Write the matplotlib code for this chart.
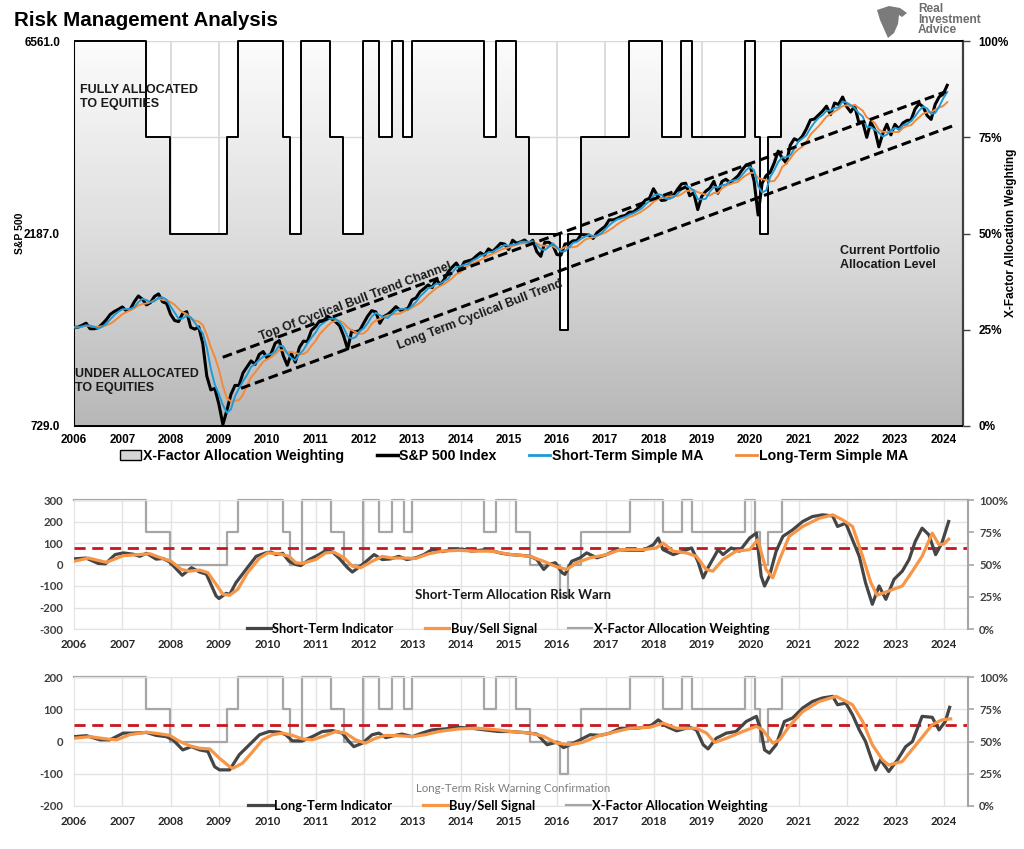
import numpy as np
import pandas as pd
import matplotlib
matplotlib.use('Agg')
import matplotlib.pyplot as plt
from matplotlib.colors import LinearSegmentedColormap
from matplotlib.lines import Line2D
from matplotlib.patches import Patch, Polygon, Rectangle
from matplotlib.ticker import NullLocator
from matplotlib import font_manager

# ---------------- DATA ----------------
spx_start_year = 2006.0
spx_monthly = [
    1280, 1281, 1295, 1311, 1270, 1270, 1277, 1304, 1336, 1378, 1401, 1418,   # 2006
    1438, 1407, 1421, 1482, 1531, 1503, 1455, 1474, 1527, 1549, 1481, 1468,   # 2007
    1379, 1331, 1323, 1386, 1400, 1280, 1267, 1283, 1166, 969, 896, 903,      # 2008
    826, 735, 798, 873, 919, 919, 987, 1021, 1057, 1036, 1096, 1115,          # 2009
    1074, 1104, 1169, 1187, 1089, 1031, 1102, 1049, 1141, 1183, 1181, 1258,   # 2010
    1286, 1327, 1326, 1364, 1345, 1321, 1292, 1219, 1131, 1253, 1247, 1258,   # 2011
    1312, 1366, 1408, 1398, 1310, 1362, 1379, 1407, 1441, 1412, 1416, 1426,   # 2012
    1498, 1515, 1569, 1598, 1631, 1606, 1686, 1633, 1682, 1757, 1806, 1848,   # 2013
    1783, 1859, 1872, 1884, 1924, 1960, 1931, 2003, 1972, 2018, 2068, 2059,   # 2014
    1995, 2105, 2068, 2086, 2107, 2063, 2104, 1972, 1920, 2079, 2080, 2044,   # 2015
    1940, 1932, 2060, 2065, 2097, 2099, 2174, 2171, 2168, 2126, 2199, 2239,   # 2016
    2279, 2364, 2363, 2384, 2412, 2423, 2470, 2472, 2519, 2575, 2648, 2674,   # 2017
    2824, 2714, 2641, 2648, 2705, 2718, 2816, 2902, 2914, 2712, 2760, 2507,   # 2018
    2704, 2784, 2834, 2946, 2752, 2942, 2980, 2926, 2977, 3038, 3141, 3231,   # 2019
    3226, 2954, 2430, 2912, 3044, 3100, 3271, 3500, 3363, 3270, 3622, 3756,   # 2020
    3714, 3811, 3973, 4181, 4204, 4298, 4395, 4523, 4308, 4605, 4567, 4766,   # 2021
    4516, 4374, 4530, 4132, 4132, 3785, 4130, 3955, 3586, 3872, 4080, 3840,   # 2022
    4077, 3970, 4109, 4169, 4180, 4450, 4589, 4508, 4288, 4194, 4568, 4770,   # 2023
    4846, 5096,                                                               # 2024
]
short_ma_months = 3
long_ma_months = 6

alloc_years = [2006.0, 2007.49, 2007.99, 2009.16, 2009.40, 2010.32, 2010.47, 2010.71,
               2011.31, 2011.58, 2011.99, 2012.32, 2012.58, 2012.82, 2012.99, 2014.49,
               2014.74, 2015.15, 2015.43, 2016.06, 2016.22, 2016.50, 2017.50, 2018.18,
               2018.58, 2018.79, 2019.89, 2020.10, 2020.20, 2020.37, 2020.65, 2024.50]
alloc_levels = [100, 75, 50, 75, 100, 75, 50, 100,
                75, 50, 100, 75, 100, 75, 100, 75,
                100, 75, 50, 25, 50, 75, 100, 75,
                100, 75, 100, 75, 50, 75, 100, 100]

upper_trend_years = [2009.08, 2024.06]
upper_trend_vals = [1079, 4916]
lower_trend_years = [2009.46, 2024.24]
lower_trend_vals = [904, 4059]

st_years = [2006.00, 2006.25, 2006.50, 2006.65, 2006.85, 2007.02, 2007.22, 2007.36, 2007.50, 2007.70,
            2007.84, 2007.98, 2008.19, 2008.24, 2008.43, 2008.60, 2008.74, 2008.94, 2009.00, 2009.15,
            2009.22, 2009.35, 2009.56, 2009.77, 2009.97, 2010.08, 2010.18, 2010.32, 2010.45, 2010.59,
            2010.69, 2010.87, 2011.07, 2011.21, 2011.35, 2011.48, 2011.66, 2011.76, 2011.97, 2012.21,
            2012.38, 2012.55, 2012.72, 2012.89, 2013.07, 2013.24, 2013.41, 2013.62, 2013.82, 2014.03,
            2014.23, 2014.51, 2014.71, 2014.85, 2015.03, 2015.24, 2015.44, 2015.58, 2015.72, 2015.82,
            2015.96, 2016.10, 2016.16, 2016.30, 2016.47, 2016.61, 2016.82, 2017.02, 2017.23, 2017.50,
            2017.78, 2017.99, 2018.09, 2018.19, 2018.40, 2018.60, 2018.78, 2018.91, 2019.02, 2019.12,
            2019.33, 2019.43, 2019.60, 2019.77, 2019.98, 2020.12, 2020.22, 2020.29, 2020.39, 2020.53,
            2020.67, 2020.87, 2021.08, 2021.28, 2021.49, 2021.70, 2021.80, 2021.97, 2022.11, 2022.25,
            2022.38, 2022.52, 2022.66, 2022.80, 2022.97, 2023.14, 2023.28, 2023.41, 2023.55, 2023.69,
            2023.83, 2023.96, 2024.10]
st_vals = [26, 30, 5, 3, 46, 54, 48, 38, 52, 25,
           28, 12, -38, -50, -15, -35, -45, -146, -158, -134,
           -140, -85, -23, 38, 54, 58, 46, 52, 15, 0,
           -5, 23, 46, 65, 58, 31, -15, -35, 0, 46,
           23, 26, 38, 23, 31, 46, 69, 60, 69, 72,
           62, 69, 60, 52, 46, 43, 38, 23, -23, 0,
           8, -38, -46, 15, 31, 54, 31, 46, 69, 66,
           66, 92, 123, 69, 46, 62, 77, 15, -62, -15,
           69, 46, 77, 62, 123, 146, -54, -100, -54, 62,
           131, 161, 200, 223, 231, 226, 177, 192, 115, 38,
           -85, -185, -100, -162, -69, -31, 23, 108, 169, 138,
           46, 100, 200]

st_sig_years = [2006.00, 2006.30, 2006.67, 2007.02, 2007.33, 2007.57, 2007.81, 2008.01, 2008.22, 2008.39,
                2008.60, 2008.77, 2008.94, 2009.08, 2009.22, 2009.39, 2009.59, 2009.84, 2010.01, 2010.25,
                2010.45, 2010.59, 2010.73, 2011.00, 2011.21, 2011.38, 2011.59, 2011.76, 2011.93, 2012.17,
                2012.38, 2012.58, 2012.86, 2013.07, 2013.34, 2013.62, 2013.96, 2014.30, 2014.65, 2014.99,
                2015.44, 2015.72, 2015.99, 2016.20, 2016.40, 2016.68, 2017.02, 2017.30, 2017.78, 2018.05,
                2018.19, 2018.40, 2018.67, 2018.88, 2019.08, 2019.22, 2019.43, 2019.70, 2019.98, 2020.15,
                2020.32, 2020.46, 2020.60, 2020.80, 2021.08, 2021.42, 2021.70, 2021.90, 2022.11, 2022.32,
                2022.49, 2022.62, 2022.86, 2023.14, 2023.35, 2023.55, 2023.76, 2023.90, 2024.00, 2024.10]
st_sig_vals = [15, 30, 10, 41, 46, 50, 30, 15, -23, -31,
               -26, -38, -92, -138, -143, -115, -38, 30, 54, 50,
               38, 8, 5, 23, 54, 57, 31, -8, -15, 15,
               38, 30, 30, 28, 50, 62, 66, 62, 62, 48,
               38, 15, -11, -23, 8, 31, 46, 69, 69, 77,
               100, 62, 54, 38, -23, -31, 23, 62, 69, 115,
               -23, -62, 23, 131, 177, 215, 231, 208, 177, 38,
               -85, -143, -123, -100, -31, 38, 146, 92, 95, 118]

lt_years = [2006.00, 2006.26, 2006.54, 2006.74, 2007.02, 2007.22, 2007.50, 2007.70, 2007.91, 2008.05,
            2008.25, 2008.43, 2008.60, 2008.77, 2008.91, 2009.01, 2009.22, 2009.42, 2009.63, 2009.84,
            2010.04, 2010.25, 2010.38, 2010.52, 2010.73, 2010.93, 2011.14, 2011.35, 2011.55, 2011.69,
            2011.79, 2011.97, 2012.17, 2012.31, 2012.45, 2012.65, 2012.79, 2013.00, 2013.20, 2013.41,
            2013.68, 2013.96, 2014.23, 2014.50, 2014.78, 2015.03, 2015.30, 2015.58, 2015.79, 2015.99,
            2016.13, 2016.27, 2016.47, 2016.68, 2016.89, 2017.09, 2017.30, 2017.64, 2017.92, 2018.09,
            2018.26, 2018.47, 2018.74, 2018.88, 2019.02, 2019.12, 2019.29, 2019.50, 2019.70, 2019.91,
            2020.12, 2020.22, 2020.29, 2020.39, 2020.53, 2020.70, 2020.87, 2021.08, 2021.28, 2021.49,
            2021.70, 2021.80, 2021.97, 2022.11, 2022.25, 2022.38, 2022.52, 2022.59, 2022.69, 2022.86,
            2023.04, 2023.21, 2023.35, 2023.55, 2023.76, 2023.90, 2024.03, 2024.12]
lt_vals = [15, 18, 5, 5, 26, 26, 28, 19, 15, 5,
           -26, -16, -26, -31, -78, -88, -88, -41, -10, 21,
           31, 29, 21, 2, 2, 15, 31, 34, 26, 0,
           -16, -5, 21, 26, 12, 19, 23, 15, 26, 36,
           39, 44, 41, 36, 31, 31, 28, 23, -10, -2,
           -19, -10, 5, 21, 19, 26, 41, 41, 47, 67,
           47, 33, 44, 36, -10, -23, 10, 26, 31, 62,
           78, 31, -26, -36, -10, 62, 73, 104, 124, 135,
           140, 114, 119, 83, 36, 0, -62, -88, -57, -93,
           -57, -16, 0, 78, 75, 36, 62, 106]

lt_sig_years = [2006.00, 2006.33, 2006.67, 2006.88, 2007.15, 2007.50, 2007.77, 2007.98, 2008.19, 2008.39,
                2008.60, 2008.81, 2009.01, 2009.22, 2009.29, 2009.49, 2009.70, 2009.90, 2010.11, 2010.32,
                2010.52, 2010.73, 2010.93, 2011.21, 2011.42, 2011.62, 2011.83, 2012.03, 2012.24, 2012.45,
                2012.72, 2013.00, 2013.27, 2013.55, 2013.96, 2014.37, 2014.78, 2015.03, 2015.44, 2015.72,
                2015.99, 2016.27, 2016.54, 2016.82, 2017.09, 2017.50, 2017.92, 2018.19, 2018.47, 2018.88,
                2019.09, 2019.26, 2019.50, 2019.84, 2020.12, 2020.25, 2020.46, 2020.60, 2020.80, 2021.08,
                2021.42, 2021.77, 2022.11, 2022.32, 2022.52, 2022.73, 2022.86, 2023.14, 2023.48, 2023.76,
                2023.96, 2024.14]
lt_sig_vals = [10, 15, 8, 5, 21, 29, 24, 19, 0, -13,
               -21, -23, -52, -78, -83, -67, -31, 5, 21, 26,
               19, 8, 5, 19, 31, 26, 5, -5, 10, 19,
               18, 15, 21, 31, 39, 41, 36, 31, 26, 16,
               -5, -10, -2, 16, 26, 41, 44, 57, 41, 41,
               26, -3, 10, 31, 47, 36, -5, 5, 47, 93,
               124, 140, 114, 62, -10, -57, -73, -62, 0, 52,
               67, 70]

year_ticks = list(range(2006, 2025))
alloc_ticks = [0, 25, 50, 75, 100]
spx_ticks = [729.0, 2187.0, 6561.0]
st_ticks = [-300, -200, -100, 0, 100, 200, 300]
lt_ticks = [-200, -100, 0, 100, 200]
st_threshold = 75
lt_threshold = 50

# ---------------- STYLE ----------------
names = {f.name for f in font_manager.fontManager.ttflist}
ARIAL = 'Liberation Sans'
NARROW = 'Liberation Sans Narrow' if 'Liberation Sans Narrow' in names else 'Liberation Sans'
CAL = 'Lato' if 'Lato' in names else 'DejaVu Sans'

W, H = 1024, 849
fig = plt.figure(figsize=(W / 100, H / 100), dpi=100)
fig.patch.set_facecolor('white')


def fx(x):
    return x / W


def fy(y):
    return 1 - y / H


def rect(left, top, right, bottom):
    return [fx(left), fy(bottom), (right - left) / W, (bottom - top) / H]


XMAX_TOP = 2024.41
XMAX_LOW = 2024.50

# ================= TOP PANEL =================
top_rect = rect(74, 41, 963, 426)
ax_bg = fig.add_axes(top_rect, zorder=1)
ax_bg.set_facecolor('white')
for yr in year_ticks[1:]:
    ax_bg.axvline(yr, color='#d9d9d9', lw=1.3, zorder=0)
for p in alloc_ticks[1:]:
    ax_bg.axhline(p, color='#d9d9d9', lw=1.0, zorder=0)

coll = ax_bg.fill_between(alloc_years, 0, alloc_levels, step='post', facecolor='none',
                          edgecolor='black', linewidth=1.4, zorder=3)
coll.set_clip_path(Rectangle((0, -0.02), 1.0, 1.04, transform=ax_bg.transAxes))
grad = np.linspace(0, 1, 256).reshape(-1, 1)
cmap = LinearSegmentedColormap.from_list('g', ['#b7b7b7', '#dedede', '#fcfcfc'])
im = ax_bg.imshow(grad, extent=[2006, XMAX_TOP, 0, 100], origin='lower', aspect='auto',
                  cmap=cmap, zorder=2, interpolation='bilinear')
im.set_clip_path(coll.get_paths()[0], transform=ax_bg.transData)
ax_bg.set_xlim(2006, XMAX_TOP)
ax_bg.set_ylim(0, 100)
ax_bg.yaxis.tick_right()
ax_bg.set_yticks(alloc_ticks)
ax_bg.set_yticklabels([f'{p}%' for p in alloc_ticks], fontfamily=NARROW, fontweight='bold', fontsize=8.5)
ax_bg.tick_params(axis='y', direction='out', length=5, width=1, color='#404040', pad=6)
ax_bg.set_xticks(year_ticks)
ax_bg.set_xticklabels([str(y) for y in year_ticks], fontfamily=NARROW, fontweight='bold', fontsize=8.5)
ax_bg.tick_params(axis='x', length=0, pad=6)
ax_bg.spines['top'].set_visible(False)
ax_bg.spines['left'].set_color('#404040')
ax_bg.spines['right'].set_color('#404040')
ax_bg.spines['right'].set_linewidth(1.6)
ax_bg.spines['bottom'].set_color('#808080')

ax_main = fig.add_axes(top_rect, zorder=2)
ax_main.patch.set_visible(False)
ax_main.set_yscale('log')
spx = pd.Series(spx_monthly, dtype=float)
spx_x = spx_start_year + np.arange(len(spx)) / 12.0
short_ma = spx.rolling(short_ma_months, min_periods=1).mean()
long_ma = spx.rolling(long_ma_months, min_periods=1).mean()
ax_main.plot(spx_x, spx.values, color='black', lw=2.2, zorder=3, solid_joinstyle='round')
ax_main.plot(spx_x, long_ma.values, color='#f28a3a', lw=1.4, zorder=4)
ax_main.plot(spx_x, short_ma.values, color='#1e9ad6', lw=1.4, zorder=5)
ax_main.plot(upper_trend_years, upper_trend_vals, color='black', lw=2.2, dashes=(3.2, 1.6), zorder=6)
ax_main.plot(lower_trend_years, lower_trend_vals, color='black', lw=2.2, dashes=(3.2, 1.6), zorder=6)
ax_main.set_xlim(2006, XMAX_TOP)
ax_main.set_ylim(spx_ticks[0], spx_ticks[-1])
ax_main.yaxis.set_minor_locator(NullLocator())
ax_main.set_yticks(spx_ticks)
ax_main.set_yticklabels([f'{v:.1f}' for v in spx_ticks], fontfamily=NARROW, fontweight='bold', fontsize=8.5)
ax_main.tick_params(axis='y', length=0, pad=10)
ax_main.set_xticks([])
for s in ax_main.spines.values():
    s.set_visible(False)

txt_kw = dict(fontfamily=ARIAL, fontweight='bold', fontsize=9, color='#1a1a1a')
fig.text(fx(80), fy(97), 'FULLY ALLOCATED\nTO EQUITIES', va='center', ha='left', linespacing=1.15, **txt_kw)
fig.text(fx(75), fy(381), 'UNDER ALLOCATED\nTO EQUITIES', va='center', ha='left', linespacing=1.15, **txt_kw)
fig.text(fx(840), fy(258), 'Current Portfolio\nAllocation Level', va='center', ha='left', linespacing=1.15, **txt_kw)
fig.text(fx(356), fy(302), 'Top Of Cyclical Bull Trend Channel', rotation=20.5, rotation_mode='anchor',
         ha='center', va='center', fontfamily=ARIAL, fontweight='bold', fontsize=8.8, color='#1a1a1a')
fig.text(fx(480), fy(315), 'Long Term Cyclical Bull Trend', rotation=21, rotation_mode='anchor',
         ha='center', va='center', fontfamily=ARIAL, fontweight='bold', fontsize=8.8, color='#1a1a1a')

fig.text(fx(14), fy(20), 'Risk Management Analysis', fontfamily=ARIAL, fontweight='bold', fontsize=14.8,
         va='center', ha='left', color='black')
fig.text(fx(20), fy(233), 'S&P 500', rotation=90, va='center', ha='center', fontfamily=NARROW,
         fontweight='bold', fontsize=7.5)
fig.text(fx(1011), fy(233), 'X-Factor Allocation Weighting', rotation=90, va='center', ha='center',
         fontfamily=ARIAL, fontweight='bold', fontsize=8.5)

# logo
logo = Polygon([[fx(877), fy(10)], [fx(889), fy(6)], [fx(900), fy(8)], [fx(907), fy(13)], [fx(902), fy(17)],
                [fx(899), fy(15)], [fx(898), fy(24)], [fx(894), fy(33)], [fx(888), fy(38)], [fx(884), fy(29)],
                [fx(880), fy(20)]], closed=True, transform=fig.transFigure, facecolor='#7b7b7b',
               edgecolor='none')
fig.patches.append(logo)
fig.text(fx(918), fy(3), 'Real\nInvestment\nAdvice', va='top', ha='left', fontfamily=ARIAL,
         fontweight='bold', fontsize=8.6, color='#6e6e6e', linespacing=0.86)

top_handles = [Patch(facecolor='#d6d6d6', edgecolor='black', linewidth=1.0),
               Line2D([], [], color='black', lw=2.5),
               Line2D([], [], color='#1e9ad6', lw=2),
               Line2D([], [], color='#f28a3a', lw=2)]
top_labels = ['X-Factor Allocation Weighting', 'S&P 500 Index', 'Short-Term Simple MA', 'Long-Term Simple MA']
fig.legend(top_handles, top_labels, loc='center', bbox_to_anchor=(fx(514), fy(456)), ncol=4, frameon=False,
           prop={'family': NARROW, 'weight': 'bold', 'size': 10.2}, handlelength=1.5, handleheight=0.8,
           handletextpad=0.1, columnspacing=2.3)


# ================= LOWER PANELS =================
def lower_panel(top, bottom, ylim, ticks, ind_x, ind_v, sig_x, sig_v, thresh, ind_label, note, note_style):
    ax = fig.add_axes(rect(74, top, 968, bottom), zorder=2)
    lo, hi = ylim
    for yr in year_ticks[1:]:
        ax.axvline(yr, color='#e3e3e3', lw=1.0, zorder=0)
    for t in ticks:
        ax.axhline(t, color='#e3e3e3', lw=1.0, zorder=0)
    alloc_vals = [lo + (hi - lo) * p / 100.0 for p in alloc_levels]
    ax.plot(alloc_years, alloc_vals, drawstyle='steps-post', color='#a6a6a6', lw=1.6, zorder=2, clip_on=False)
    ax.axhline(thresh, color='#c9151e', lw=2.0, dashes=(4, 2.4), zorder=3)
    ax.plot(ind_x, ind_v, color='#454545', lw=2.3, zorder=4, solid_joinstyle='round')
    ax.plot(sig_x, sig_v, color='#f79646', lw=2.3, zorder=5, solid_joinstyle='round')
    ax.set_xlim(2006, XMAX_LOW)
    ax.set_ylim(lo, hi)
    ax.set_yticks(ticks)
    ax.set_yticklabels([str(t) for t in ticks], fontfamily=CAL, fontweight='bold', fontsize=8.2, color='#404040')
    ax.set_xticks(year_ticks)
    ax.set_xticklabels([str(y) for y in year_ticks], fontfamily=CAL, fontweight='bold', fontsize=8.2,
                       color='#262626')
    ax.tick_params(axis='both', length=0)
    ax.tick_params(axis='y', pad=8)
    ax.tick_params(axis='x', pad=7)
    for s in ['top', 'left', 'bottom']:
        ax.spines[s].set_color('#e3e3e3')
    ax.spines['right'].set_visible(False)
    axr = ax.twinx()
    axr.set_ylim(0, 100)
    axr.set_yticks(alloc_ticks)
    axr.set_yticklabels([f'{p}%' for p in alloc_ticks], fontfamily=CAL, fontweight='bold', fontsize=8.2,
                        color='#404040')
    axr.tick_params(axis='y', direction='out', length=4, color='#a6a6a6', width=1.2, pad=4)
    for s in ['top', 'left', 'bottom']:
        axr.spines[s].set_visible(False)
    axr.spines['right'].set_color('#a6a6a6')
    axr.spines['right'].set_linewidth(1.5)

    handles = [Line2D([], [], color='#454545', lw=2.3), Line2D([], [], color='#f79646', lw=2.3),
               Line2D([], [], color='#a6a6a6', lw=1.6)]
    labels = [ind_label, 'Buy/Sell Signal', 'X-Factor Allocation Weighting']
    fig.legend(handles, labels, loc='center', bbox_to_anchor=(fx(508), fy(bottom)), ncol=3, frameon=False,
               prop={'family': CAL, 'weight': 'bold', 'size': 9.3}, handlelength=1.9, handletextpad=0.1,
               columnspacing=2.4)
    fig.text(fx(513), fy(note[1]), note[0], ha='center', va='center', fontfamily=CAL, **note_style)
    return ax


lower_panel(500, 629, (-300, 300), st_ticks, st_years, st_vals, st_sig_years, st_sig_vals, st_threshold,
            'Short-Term Indicator', ('Short-Term Allocation Risk Warn', 595),
            dict(fontweight='bold', fontsize=9.5, color='#1a1a1a'))
lower_panel(677, 806, (-200, 200), lt_ticks, lt_years, lt_vals, lt_sig_years, lt_sig_vals, lt_threshold,
            'Long-Term Indicator', ('Long-Term Risk Warning Confirmation', 789),
            dict(fontweight='normal', fontsize=8.3, color='#7f7f7f'))

fig.savefig('out.png', dpi=100, facecolor='white')
